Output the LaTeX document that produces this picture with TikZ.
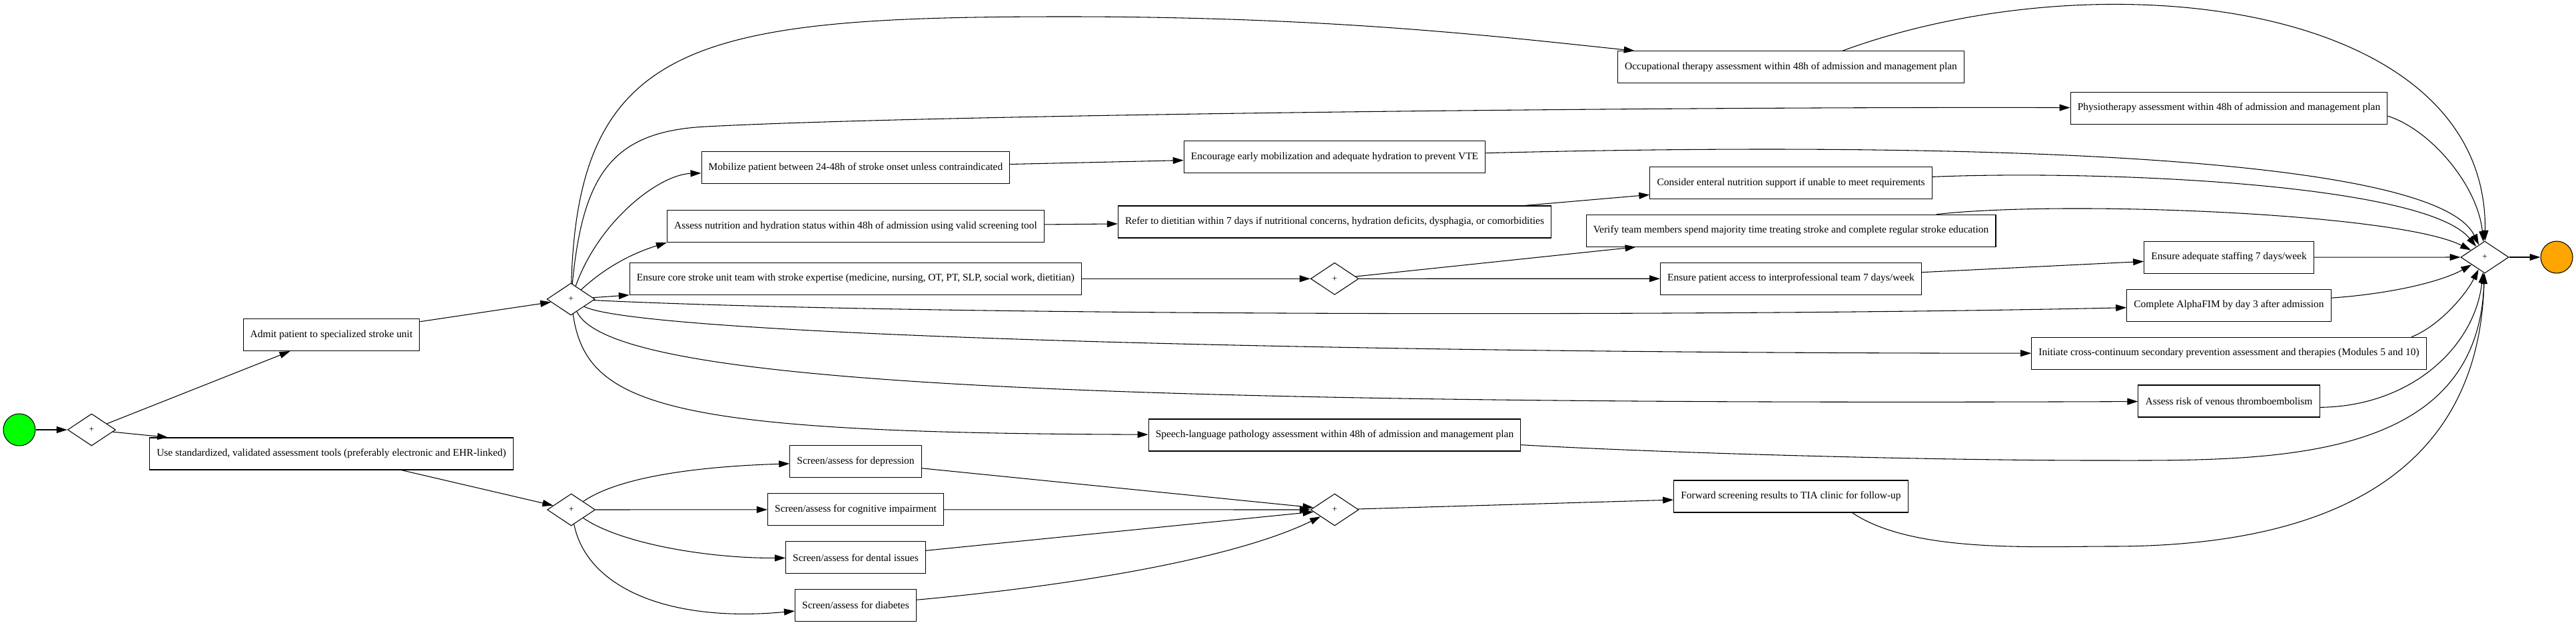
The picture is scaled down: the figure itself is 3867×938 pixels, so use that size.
\documentclass[tikz,border=0pt]{standalone}
\usepackage{fontspec}
\setmainfont{Liberation Serif}
\usetikzlibrary{arrows.meta,shapes.geometric}
\definecolor{startgreen}{HTML}{00FF00}
\definecolor{endorange}{HTML}{FFA500}
\tikzset{
  task/.style={draw,line width=0.8pt,minimum height=36pt,inner xsep=8pt,font=\fontsize{11.6}{14}\selectfont},
  gate/.style={draw,diamond,line width=0.8pt,minimum width=54pt,minimum height=36pt,inner sep=0pt,font=\fontsize{10}{12}\selectfont},
  event/.style={draw,circle,line width=0.8pt,minimum size=36pt,inner sep=0pt},
  flow/.style={-{Triangle[length=12pt,width=7.5pt]},line width=0.8pt},
}

\begin{document}
\begin{tikzpicture}[x=0.75pt,y=-0.75pt]
\useasboundingbox (0,0) rectangle (3867,938);
\node[event,fill=startgreen] (start) at (29,645) {};
\node[gate] (g1) at (137.5,645) {+};
\node[task] (admit) at (497.5,502.5) {Admit patient to specialized stroke unit};
\node[task] (tools) at (497.5,681) {Use standardized, validated assessment tools (preferably electronic and EHR-linked)};
\node[gate] (g2) at (857,449) {+};
\node[gate] (g4) at (857.5,765) {+};
\node[task] (mobil) at (1284.5,251.7) {Mobilize patient between 24-48h of stroke onset unless contraindicated};
\node[task] (nutri) at (1284.5,339.5) {Assess nutrition and hydration status within 48h of admission using valid screening tool};
\node[task] (core) at (1284.5,418.3) {Ensure core stroke unit team with stroke expertise (medicine, nursing, OT, PT, SLP, social work, dietitian)};
\node[task] (dep) at (1284.5,692.8) {Screen/assess for depression};
\node[task] (cog) at (1284.5,764.8) {Screen/assess for cognitive impairment};
\node[task] (dent) at (1284.5,836.8) {Screen/assess for dental issues};
\node[task] (diab) at (1284.5,908.5) {Screen/assess for diabetes};
\node[task] (vtemob) at (2003.5,235.5) {Encourage early mobilization and adequate hydration to prevent VTE};
\node[task] (diet) at (2003.5,333) {Refer to dietitian within 7 days if nutritional concerns, hydration deficits, dysphagia, or comorbidities};
\node[gate] (g3) at (2003.5,418.3) {+};
\node[task] (slp) at (2003.5,653) {Speech-language pathology assessment within 48h of admission and management plan};
\node[gate] (g5) at (2003.5,765) {+};
\node[task] (ot) at (2688.5,100.8) {Occupational therapy assessment within 48h of admission and management plan};
\node[task] (enteral) at (2688.5,274.2) {Consider enteral nutrition support if unable to meet requirements};
\node[task] (verify) at (2688.5,346.2) {Verify team members spend majority time treating stroke and complete regular stroke education};
\node[task] (access) at (2688.5,418.2) {Ensure patient access to interprofessional team 7 days/week};
\node[task] (tia) at (2688.5,745) {Forward screening results to TIA clinic for follow-up};
\node[task] (pt) at (3346,162.2) {Physiotherapy assessment within 48h of admission and management plan};
\node[task] (staff) at (3346,386.2) {Ensure adequate staffing 7 days/week};
\node[task] (fim) at (3346,458.2) {Complete AlphaFIM by day 3 after admission};
\node[task] (prev) at (3346,530.2) {Initiate cross-continuum secondary prevention assessment and therapies (Modules 5 and 10)};
\node[task] (vte) at (3346,602) {Assess risk of venous thromboembolism};
\node[gate] (g6) at (3730,386) {+};
\node[event,fill=endorange] (stop) at (3838,386) {};
% straight flows
\foreach \a/\b in {start/g1,g1/admit,g1/tools,admit/g2,tools/g4,mobil/vtemob,nutri/diet,core/g3,g3/verify,g3/access,diet/enteral,access/staff,staff/g6,g6/stop,g4/cog,dep/g5,cog/g5,dent/g5,g5/tia}
  \draw[flow] (\a) -- (\b);
\draw[flow] (g2) -- (core.south west);
% fan out of the stroke unit gateway
\draw[flow] (g2) .. controls (868,60) and (1050,25) .. (1600,25) .. controls (2000,25) and (2250,55) .. (ot);
\draw[flow] (g2) .. controls (875,260) and (920,197) .. (1060,190) .. controls (1400,172) and (2500,160) .. (pt);
\draw[flow] (g2) .. controls (900,330) and (990,262) .. (mobil);
\draw[flow] (g2) .. controls (910,400) and (950,380) .. (nutri.south west);
\draw[flow] (g2) .. controls (1400,475) and (2600,475) .. (fim);
\draw[flow] (g2) .. controls (950,500) and (1900,530) .. (prev);
\draw[flow] (g2) .. controls (910,560) and (1400,610) .. (vte);
\draw[flow] (g2) .. controls (880,610) and (1000,650) .. (slp);
% screening branch
\draw[flow] (g4) .. controls (930,715) and (1050,700) .. (dep);
\draw[flow] (g4) .. controls (930,815) and (1060,838) .. (dent);
\draw[flow] (g4) .. controls (880,880) and (1000,935) .. (diab);
\draw[flow] (diab) .. controls (1600,880) and (1850,840) .. (g5);
% join
\draw[flow] ([xshift=58pt]ot.north) .. controls (3150,-65) and (3735,0) .. (g6);
\draw[flow] ([yshift=-9pt]pt.east) .. controls (3650,195) and (3720,280) .. (g6);
\draw[flow] (vtemob) .. controls (2800,215) and (3650,220) .. (g6);
\draw[flow] (enteral) .. controls (3150,255) and (3640,275) .. (g6);
\draw[flow] (verify) .. controls (3100,300) and (3600,320) .. (g6);
\draw[flow] (fim) .. controls (3600,440) and (3670,420) .. (g6);
\draw[flow] ([xshift=-17pt]prev.north east) .. controls (3660,490) and (3700,445) .. (g6);
\draw[flow] ([yshift=-7pt]vte.east) .. controls (3620,610) and (3715,520) .. (g6);
\draw[flow] ([yshift=-11pt]slp.east) .. controls (2500,680) and (2900,691) .. (3150,691) .. controls (3400,691) and (3720,700) .. (g6);
\draw[flow] ([xshift=69pt]tia.south) .. controls (2870,830) and (3050,820) .. (3170,820) .. controls (3450,820) and (3720,740) .. (g6);
\end{tikzpicture}
\end{document}
